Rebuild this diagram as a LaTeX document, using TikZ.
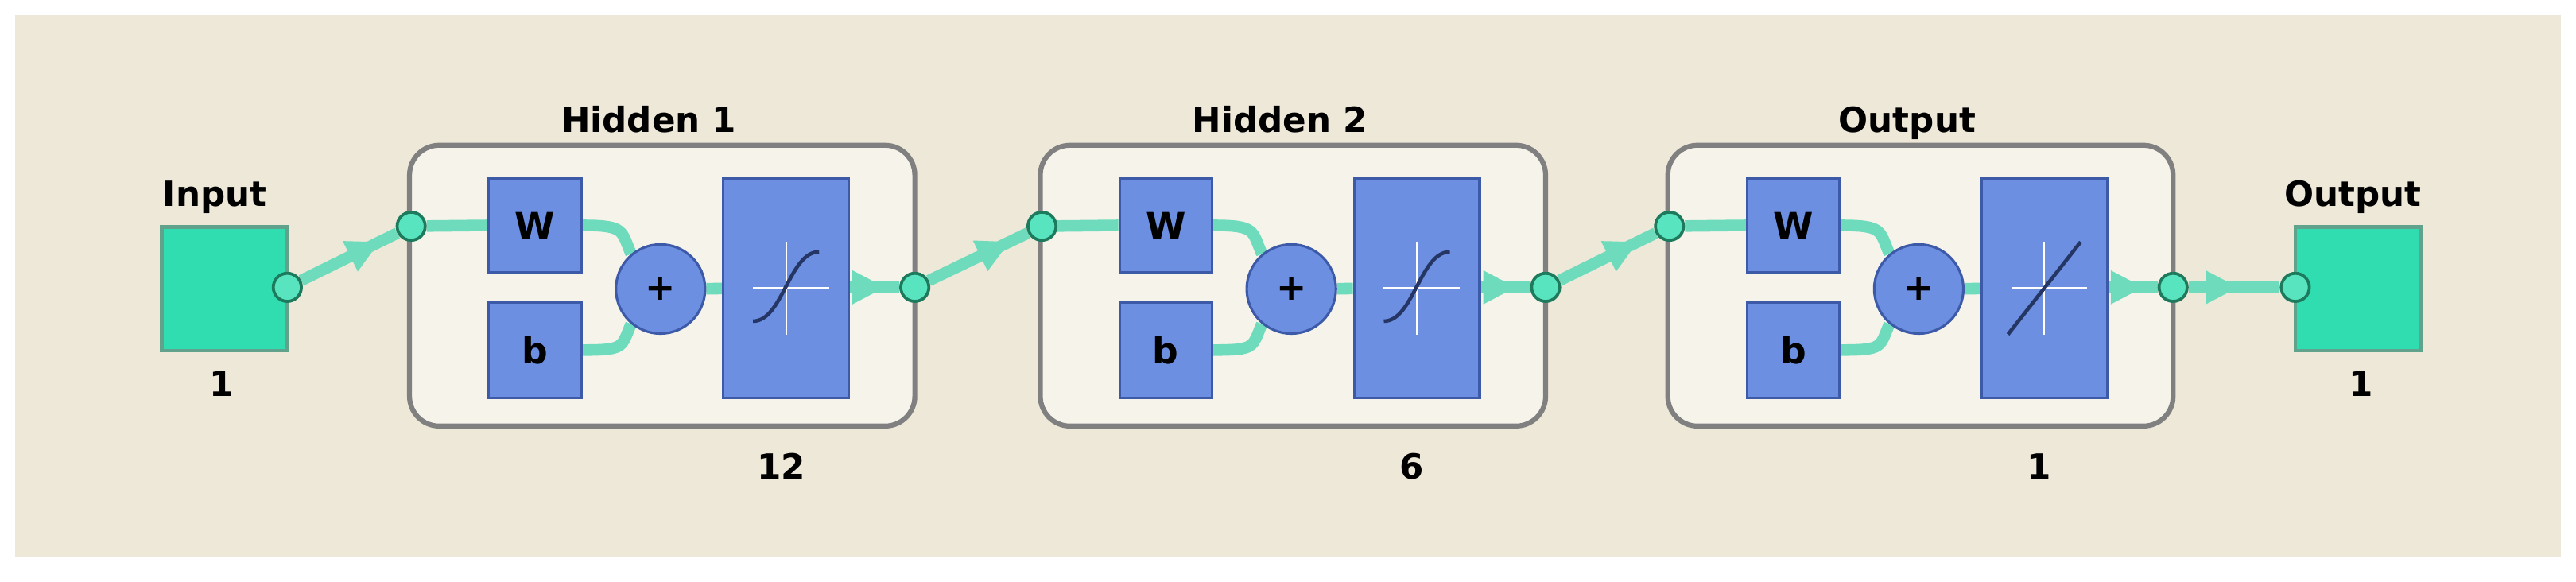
\documentclass[tikz,border=0pt]{standalone}
\usepackage{fontspec}
\setmainfont{DejaVu Sans}
\usetikzlibrary{arrows.meta,decorations.markings}
\definecolor{bgc}{HTML}{EEE8D8}
\definecolor{boxc}{HTML}{F6F3EA}
\definecolor{blu}{HTML}{6C8FE2}
\definecolor{blud}{HTML}{3D5AA8}
\definecolor{tealf}{HTML}{2FDDB0}
\definecolor{teald}{HTML}{1E7A5C}
\definecolor{wirec}{HTML}{6EDCBC}
\pgfdeclarelayer{back}\pgfdeclarelayer{wires}
\pgfsetlayers{back,wires,main}
\tikzset{
 blk/.style={draw=blud,line width=1.5pt,fill=blu,minimum width=56pt,inner sep=0pt,font=\bfseries\fontsize{22}{24}\selectfont},
 dot/.style={circle,draw=teald,line width=1.8pt,fill=tealf!80!white,minimum size=17pt,inner sep=0pt},
 wire/.style={draw=wirec,line width=7pt},
 arr/.style={wire,postaction={decorate},decoration={markings,mark=at position #1 with {\arrow[wirec]{Triangle[length=20pt,width=19pt]}}}},
 lay/.style={draw=gray,line width=3pt,fill=boxc,rounded corners=18pt,minimum width=306pt,minimum height=170pt,inner sep=0pt},
 sq/.style={draw=teald!70,line width=2pt,fill=tealf,minimum width=76pt,minimum height=75pt,inner sep=0pt},
 lbl/.style={anchor=base,font=\bfseries\fontsize{21}{23}\selectfont}
}
\begin{document}
\begin{tikzpicture}[x=1pt,y=-1pt]
\begin{pgfonlayer}{back}
\fill[white] (0,0) rectangle (1560,352);
\fill[bgc] (9,9) rectangle (1551,337);
\end{pgfonlayer}
\node[sq] (in) at (136,175) {};
\node[lbl] (intxt) at (130,125) {Input};
\node[lbl] (inone) at (134,240) {1};
\node[dot] (ic) at (174,174) {};
\node[sq] (out) at (1428,175) {};
\node[lbl] (outtxt) at (1425,125) {Output};
\node[lbl] (outone) at (1430,240) {1};
\node[dot] (oc) at (1390,174) {};
\foreach \i/\dx/\t/\n in {1/0/Hidden 1/12,2/382/Hidden 2/6,3/762/Output/1}{
 \begin{pgfonlayer}{back}
 \node[lay] (B\i) at (401+\dx,173) {};
 \end{pgfonlayer}
 \node[lbl] (T\i) at (393+\dx,80) {\t};
 \node[lbl] (N\i) at (473+\dx,290) {\n};
 \node[dot] (L\i) at (249+\dx,137) {};
 \node[dot] (R\i) at (554+\dx,174) {};
 \node[blk,minimum height=57pt] (W\i) at (324+\dx,136.5) {W};
 \node[blk,minimum height=58pt] (b\i) at (324+\dx,212) {b};
 \node[blk,circle,minimum width=54pt] (P\i) at (400+\dx,175) {+};
 \node[blk,minimum width=76pt,minimum height=133pt] (F\i) at (476+\dx,174.5) {};
 \draw[white,line width=1pt] ([xshift=-20pt]F\i.center) -- ([xshift=26pt]F\i.center)
   ([yshift=-28pt]F\i.center) -- ([yshift=28pt]F\i.center);
 \begin{pgfonlayer}{wires}
 \draw[wire] (L\i) -- (W\i.west);
 \draw[wire] (W\i.east) .. controls +(26,0) and +(-6,-14) .. (P\i.130);
 \draw[wire] (b\i.east) .. controls +(26,0) and +(-6,14) .. (P\i.-130);
 \draw[wire] (P\i) -- (F\i);
 \draw[arr=0.72] (F\i.east |- R\i) -- (R\i);
 \end{pgfonlayer}
}
\foreach \i in {1,2}{
 \draw[blud!60!black,line width=2.2pt] ([shift={(-20,20)}]F\i.center) .. controls ([shift={(-2,20)}]F\i.center) and ([shift={(2,-22)}]F\i.center) .. ([shift={(20,-22)}]F\i.center);
}
\draw[blud!60!black,line width=2.2pt] ([shift={(-22,28)}]F3.center) -- ([shift={(22,-28)}]F3.center);
\begin{pgfonlayer}{wires}
 \draw[arr=0.82] (ic) -- (L1);
 \draw[arr=0.82] (R1) -- (L2);
 \draw[arr=0.82] (R2) -- (L3);
 \draw[arr=0.55] (R3) -- (oc);
\end{pgfonlayer}
\end{tikzpicture}
\end{document}
